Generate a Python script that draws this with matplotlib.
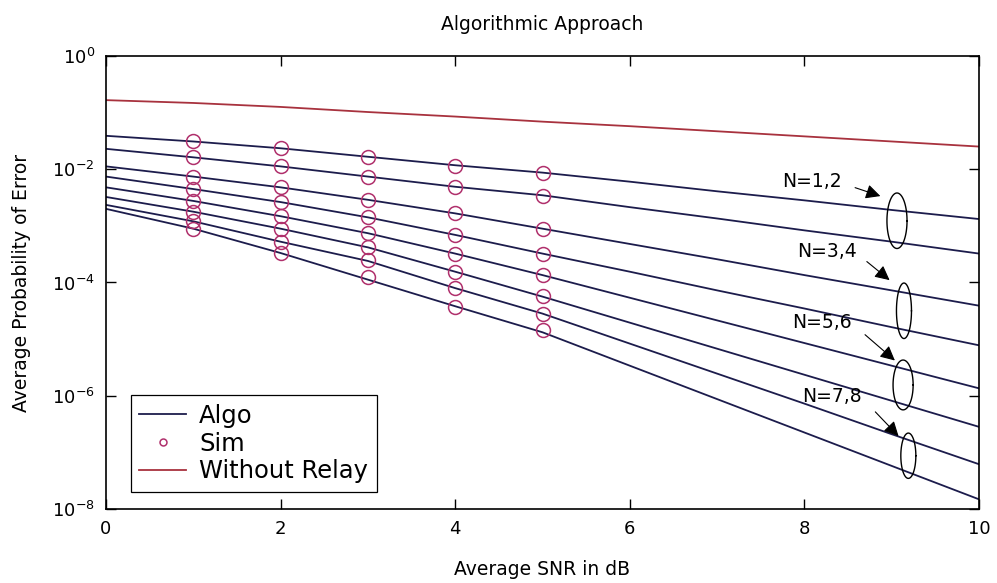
import numpy as np
import matplotlib
matplotlib.use("Agg")
import matplotlib.pyplot as plt

# SNR grid (dB) and curves, stored as log10 of the error probability
snr = [0, 1, 2, 3, 4, 5, 6, 7, 8, 9, 10]
algo_log = [
    [-1.41, -1.51, -1.63, -1.78, -1.93, -2.06, -2.22, -2.39, -2.55, -2.72, -2.88],
    [-1.64, -1.79, -1.95, -2.13, -2.31, -2.46, -2.67, -2.87, -3.08, -3.28, -3.49],
    [-1.95, -2.13, -2.32, -2.54, -2.78, -3.05, -3.32, -3.59, -3.87, -4.14, -4.41],
    [-2.13, -2.35, -2.58, -2.85, -3.16, -3.49, -3.81, -4.14, -4.46, -4.79, -5.11],
    [-2.32, -2.56, -2.83, -3.13, -3.49, -3.87, -4.27, -4.67, -5.07, -5.47, -5.87],
    [-2.49, -2.75, -3.05, -3.38, -3.81, -4.25, -4.71, -5.17, -5.63, -6.09, -6.55],
    [-2.63, -2.92, -3.28, -3.62, -4.10, -4.55, -5.08, -5.61, -6.14, -6.68, -7.21],
    [-2.70, -3.05, -3.48, -3.95, -4.42, -4.88, -5.47, -6.06, -6.65, -7.24, -7.83],
]
sim_snr = [1, 2, 3, 4, 5]
sim_log = [
    [-1.51, -1.63, -1.78, -1.94, -2.07],
    [-1.79, -1.95, -2.13, -2.31, -2.47],
    [-2.13, -2.32, -2.54, -2.78, -3.06],
    [-2.35, -2.58, -2.84, -3.16, -3.49],
    [-2.56, -2.83, -3.13, -3.49, -3.87],
    [-2.75, -3.05, -3.37, -3.81, -4.24],
    [-2.92, -3.28, -3.60, -4.10, -4.55],
    [-3.05, -3.48, -3.90, -4.43, -4.84],
]
norelay_log = [-0.78, -0.83, -0.90, -0.99, -1.07, -1.16, -1.24, -1.33, -1.42, -1.51, -1.60]

group_labels = ["N=1,2", "N=3,4", "N=5,6", "N=7,8"]

NAVY = "#1c1c4c"
RED = "#a8323e"
PINK = "#b0306c"

fig = plt.figure(figsize=(9.97, 5.83), dpi=100)
ax = fig.add_axes([0.1063, 0.127, 0.8757, 0.777])

for i, row in enumerate(algo_log):
    ax.semilogy(snr, 10 ** np.array(row), color=NAVY, lw=1.3,
                label="Algo" if i == 0 else None)
for i, row in enumerate(sim_log):
    ax.semilogy(sim_snr, 10 ** np.array(row), "o", mfc="none", mec=PINK, mew=1.1, ms=10,
                label="Sim" if i == 0 else None)
ax.semilogy(snr, 10 ** np.array(norelay_log), color=RED, lw=1.3, label="Without Relay")

# group ellipses + labels with arrows
ell = [(9.06, -2.91, 0.115, 0.49), (9.14, -4.50, 0.086, 0.49),
       (9.13, -5.81, 0.115, 0.44), (9.19, -7.06, 0.086, 0.40)]
txt = [(7.74, -2.21), (7.92, -3.45), (7.86, -4.70), (7.97, -6.02)]
arr = [((8.55, -2.31), (8.90, -2.49)), ((8.69, -3.60), (9.00, -3.99)),
       ((8.67, -4.89), (9.06, -5.41)), ((8.79, -6.25), (9.10, -6.75))]
t = np.linspace(0, 2 * np.pi, 120)
for (cx, cy, w, h), (tx, ty), (a0, a1), lab in zip(ell, txt, arr, group_labels):
    ax.plot(cx + w * np.cos(t), 10 ** (cy + h * np.sin(t)), color="k", lw=1.0)
    ax.text(tx, 10 ** ty, lab, fontsize=13.5, va="center", ha="left")
    ax.annotate("", xy=(a1[0], 10 ** a1[1]), xytext=(a0[0], 10 ** a0[1]),
                arrowprops=dict(arrowstyle="-|>", color="k", lw=0.8, mutation_scale=22))

ax.set_xlim(0, 10)
ax.set_ylim(1e-8, 1e0)
ax.set_xticks([0, 2, 4, 6, 8, 10])
ax.set_yticks([1e0, 1e-2, 1e-4, 1e-6, 1e-8])
ax.minorticks_off()
ax.tick_params(direction="in", length=7, width=1, top=True, right=True, labelsize=13, pad=8)
for s in ax.spines.values():
    s.set_linewidth(1.2)

ax.set_title("Algorithmic Approach", fontsize=13.5, pad=19)
ax.set_xlabel("Average SNR in dB", fontsize=13.5, labelpad=16)
ax.set_ylabel("Average Probability of Error", fontsize=13.5, labelpad=15)

leg = ax.legend(loc="lower left", bbox_to_anchor=(0.0286, 0.0375), borderaxespad=0,
                fontsize=17.5, fancybox=False, edgecolor="k", framealpha=1, markerscale=0.5,
                handlelength=1.9, handletextpad=0.55, labelspacing=0.16, borderpad=0.35)
leg.get_frame().set_linewidth(0.9)

fig.savefig("out.png", dpi=100)
